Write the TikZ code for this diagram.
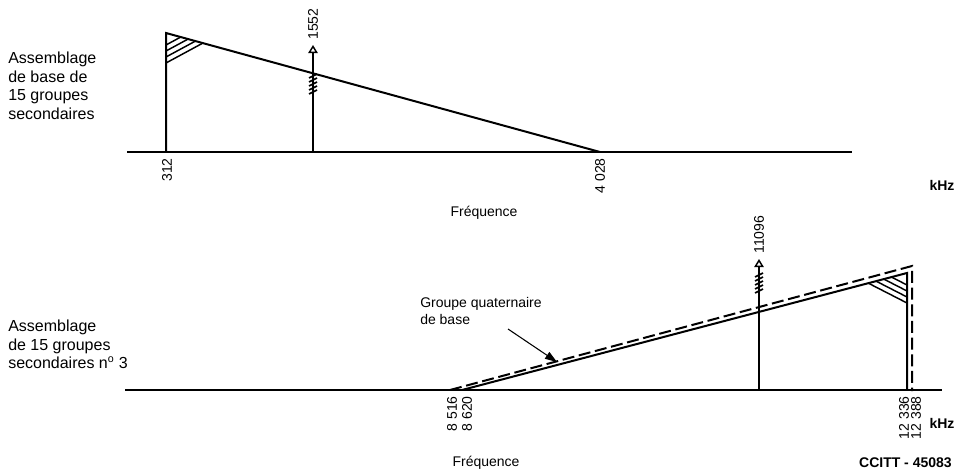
\documentclass[tikz,border=0pt]{standalone}
\usepackage{fontspec}
\setmainfont{Liberation Sans}
\usetikzlibrary{arrows.meta,calc}
\begin{document}
\begin{tikzpicture}[x=0.75pt,y=-0.75pt,
  mainln/.style={line width=1.5pt},
  dashln/.style={line width=1.5pt, dash pattern=on 9pt off 3.5pt},
  hatchln/.style={line width=1.1pt},
  sigln/.style={line width=1.5pt, -{Triangle[open,length=6pt,width=7pt,line width=1.1pt]}},
  zigln/.style={line width=1.2pt},
  numlbl/.style={rotate=90, anchor=east, inner sep=0pt, font=\fontsize{10.5}{12}\selectfont},
  toplbl/.style={rotate=90, anchor=west, inner sep=0pt, font=\fontsize{10.5}{12}\selectfont},
  sidelbl/.style={anchor=north west, align=left, inner sep=0pt, font=\fontsize{12}{13.8}\selectfont},
  txt/.style={inner sep=0pt, font=\fontsize{10.5}{12.8}\selectfont},
  boldlbl/.style={inner sep=0pt, font=\bfseries\fontsize{10.5}{12}\selectfont},
  pointer/.style={line width=0.8pt, -{Triangle[length=9pt,width=6pt]}}
]
\useasboundingbox (0,0) rectangle (958,475);

% ---------- top diagram ----------
\coordinate (ta0) at (127,152);
\coordinate (ta1) at (852,152);
\coordinate (tA) at (166,33);
\coordinate (tO) at (166,152);
\coordinate (tE) at (600,152);
\coordinate (tB) at (203,43);
\coordinate (tC) at (166,63);
\draw[mainln] (ta0) -- (ta1);
\draw[mainln] (tO) -- (tA) -- (tE);
\foreach \t in {0.4,0.6,0.8,1} \draw[hatchln] ($(tA)!\t!(tC)$) -- ($(tA)!\t!(tB)$);

\coordinate (s1b) at (313,152);
\coordinate (s1t) at (313,45);
\draw[sigln] (s1b) -- (s1t);
\foreach \y in {78,82,86,90,94} \draw[zigln] (309,\y) -- (317,\y-4);
\node[toplbl] (l1552) at (313,40) {1552};

\node[numlbl] (l312) at (167,158) {312};
\node[numlbl] (l4028) at (600,158) {4 028};
\node[boldlbl] (khz1) at (942,185) {kHz};
\node[txt] (freq1) at (484,213) {Fréquence};
\node[sidelbl] (side1) at (8,52) {Assemblage\\de base de\\15 groupes\\secondaires};

% ---------- bottom diagram ----------
\coordinate (ba0) at (125,390);
\coordinate (ba1) at (942,390);
\coordinate (bS0) at (462,390);
\coordinate (bS1) at (907,273);
\coordinate (bS2) at (907,390);
\coordinate (bD0) at (450,390);
\coordinate (bD1) at (912,266);
\coordinate (bD2) at (912,391);
\coordinate (bB) at (868,283);
\coordinate (bC) at (907,303);
\draw[mainln] (ba0) -- (ba1);
\draw[mainln] (bS0) -- (bS1) -- (bS2);
\draw[dashln] (bD0) -- (bD1) -- (bD2);
\foreach \t in {0.4,0.6,0.8,1} \draw[hatchln] ($(bS1)!\t!(bC)$) -- ($(bS1)!\t!(bB)$);

\coordinate (s2b) at (759,390);
\coordinate (s2t) at (759,259);
\draw[sigln] (s2b) -- (s2t);
\foreach \y in {277,281,285,289,293} \draw[zigln] (755,\y) -- (763,\y-4);
\node[toplbl] (l11096) at (759,254) {11096};

\node[numlbl] (l8516) at (452,396) {8 516};
\node[numlbl] (l8620) at (467,396) {8 620};
\node[numlbl] (l12336) at (904,396) {12 336};
\node[numlbl] (l12388) at (916,396) {12 388};
\node[boldlbl] (khz2) at (942,423) {kHz};
\node[txt] (freq2) at (486,463) {Fréquence};
\node[boldlbl, anchor=east] (ccitt) at (952,463) {CCITT - 45083};
\node[sidelbl] (side2) at (8,320) {Assemblage\\de 15 groupes\\secondaires n\textsuperscript{o} 3};

\node[txt, anchor=north west, align=left] (gq) at (420,297) {Groupe quaternaire\\de base};
\coordinate (pstart) at (508,329);
\coordinate (pend) at (557,362);
\draw[pointer] (pstart) -- (pend);
\end{tikzpicture}
\end{document}
